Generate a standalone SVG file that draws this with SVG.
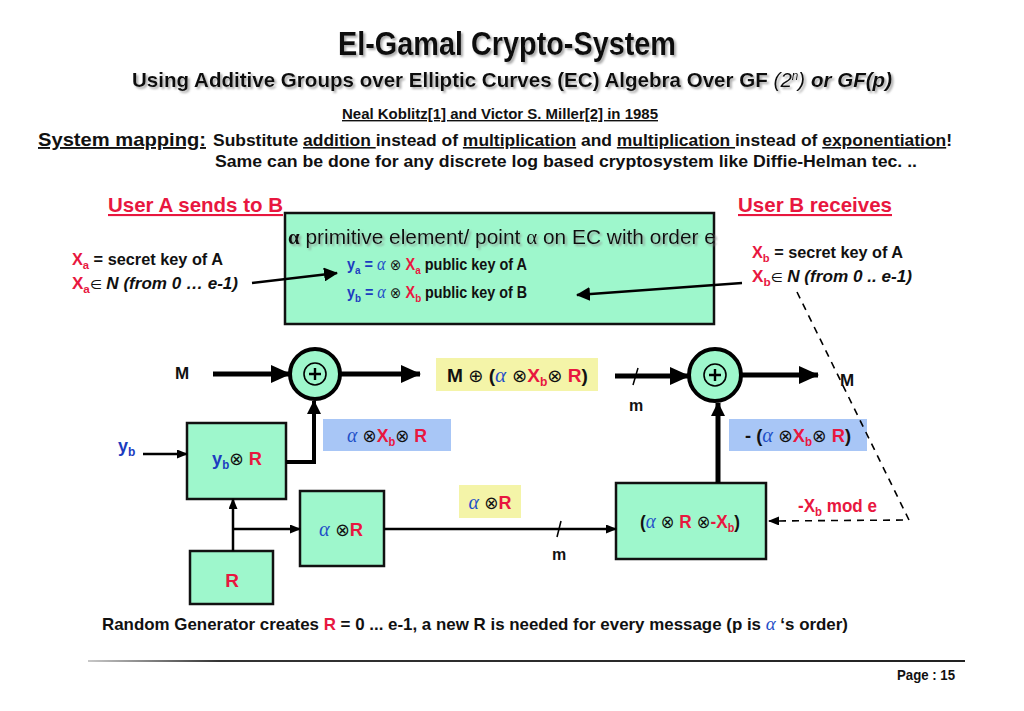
<svg xmlns="http://www.w3.org/2000/svg" width="1024" height="711" viewBox="0 0 1024 711">
<defs>
<style>
.n{font-family:"Liberation Sans Narrow","Liberation Sans",Arial,sans-serif;font-weight:bold;fill:#111}
.r{fill:#e8173f}
.b{fill:#1c3cc0}
.al{font-family:"Liberation Serif",serif;font-style:italic;font-weight:normal;fill:#1f4fc8}
.sy{font-family:"DejaVu Sans",sans-serif;font-weight:normal;fill:#111}
.box{fill:#9ef7cc;stroke:#111;stroke-width:2.5}
.yel{fill:#f4f4a8}
.blu{fill:#a8c6f6}
.thick{stroke:#000;stroke-width:5;fill:none}
.thin{stroke:#000;stroke-width:2.5;fill:none}
.dash{stroke:#000;stroke-width:1.6;fill:none;stroke-dasharray:7 6}
.u{text-decoration:underline}
</style>
<marker id="big" markerUnits="userSpaceOnUse" markerWidth="20" markerHeight="18" refX="19" refY="9" orient="auto"><path d="M0,0 L20,9 L0,18 z" fill="#000"/></marker>
<marker id="med" markerUnits="userSpaceOnUse" markerWidth="14" markerHeight="14" refX="13" refY="7" orient="auto"><path d="M0,0 L14,7 L0,14 z" fill="#000"/></marker>
<marker id="sm" markerUnits="userSpaceOnUse" markerWidth="11" markerHeight="9" refX="10" refY="4.5" orient="auto"><path d="M0,0 L11,4.5 L0,9 z" fill="#000"/></marker>
<filter id="sh" x="-5%" y="-20%" width="110%" height="150%"><feDropShadow dx="2" dy="2" stdDeviation="1.2" flood-color="#888" flood-opacity="0.7"/></filter>
<linearGradient id="hl" x1="0" y1="0" x2="1" y2="0"><stop offset="0" stop-color="#c8c8c8"/><stop offset="0.15" stop-color="#333"/><stop offset="1" stop-color="#222"/></linearGradient>
</defs>
<rect width="1024" height="711" fill="#fff"/>

<g id="header">
<text class="n" x="507" y="55" font-size="33" text-anchor="middle" textLength="338" lengthAdjust="spacingAndGlyphs" filter="url(#sh)">El-Gamal Crypto-System</text>
<text class="n" x="132" y="87" font-size="21" textLength="760" lengthAdjust="spacingAndGlyphs" filter="url(#sh)">Using Additive Groups over Elliptic Curves (EC) Algebra Over GF <tspan font-style="italic" font-weight="normal">(2<tspan font-size="12" baseline-shift="super">n</tspan>)</tspan><tspan font-style="italic"> or GF(p)</tspan></text>
<text class="n u" x="500" y="119" font-size="14" text-anchor="middle" textLength="316" lengthAdjust="spacingAndGlyphs">Neal Koblitz[1] and Victor S. Miller[2] in 1985</text>
<text class="n u" x="38" y="146" font-size="19" textLength="168" lengthAdjust="spacingAndGlyphs">System mapping:</text>
<text class="n" x="213" y="146" font-size="16" textLength="739" lengthAdjust="spacingAndGlyphs">Substitute <tspan class="u">addition </tspan>instead of <tspan class="u">multiplication</tspan> and <tspan class="u">multiplication </tspan>instead of <tspan class="u">exponentiation</tspan>!</text>
<text class="n" x="215" y="167" font-size="16" textLength="702" lengthAdjust="spacingAndGlyphs">Same can be done for any discrete log based cryptosystem like Diffie-Helman tec. ..</text>
</g>

<g id="userA">
<text class="n r u" x="108" y="212" font-size="21" textLength="175" lengthAdjust="spacingAndGlyphs">User A sends to B</text>
<text class="n" x="72" y="265" font-size="16" textLength="151" lengthAdjust="spacingAndGlyphs"><tspan class="r">X</tspan><tspan class="r" font-size="11" dy="4">a</tspan><tspan dy="-4"> = secret key of A</tspan></text>
<text class="n" x="72" y="289" font-size="16" textLength="166" lengthAdjust="spacingAndGlyphs"><tspan class="r">X</tspan><tspan class="r" font-size="11" dy="4">a</tspan><tspan class="sy" font-size="13" dy="-4">∈ </tspan><tspan font-style="italic">N (from 0 …  e-1)</tspan></text>
</g>

<g id="userB">
<text class="n r u" x="738" y="212" font-size="21" textLength="154" lengthAdjust="spacingAndGlyphs">User B receives</text>
<text class="n" x="752" y="258" font-size="16" textLength="151" lengthAdjust="spacingAndGlyphs"><tspan class="r">X</tspan><tspan class="r" font-size="11" dy="4">b</tspan><tspan dy="-4"> = secret key of A</tspan></text>
<text class="n" x="752" y="282" font-size="16" textLength="160" lengthAdjust="spacingAndGlyphs"><tspan class="r">X</tspan><tspan class="r" font-size="11" dy="4">b</tspan><tspan class="sy" font-size="13" dy="-4">∈ </tspan><tspan font-style="italic">N  (from 0 .. e-1)</tspan></text>
</g>

<g id="public-keys">
<rect class="box" x="285" y="213" width="429" height="111"/>
<text x="288" y="244" font-size="21" font-family="'Liberation Sans',Arial,sans-serif" fill="#111" textLength="428" lengthAdjust="spacingAndGlyphs" filter="url(#sh)"><tspan font-family="'Liberation Serif',serif" font-weight="bold">α</tspan> primitive element/ point <tspan font-family="'Liberation Serif',serif">α</tspan> on EC with order e</text>
<text class="n" x="347" y="270" font-size="16" textLength="180" lengthAdjust="spacingAndGlyphs"><tspan class="b">y</tspan><tspan class="b" font-size="11" dy="4">a</tspan><tspan class="b" dy="-4"> = </tspan><tspan class="al" font-size="18">α</tspan><tspan class="sy" font-size="15"> ⊗ </tspan><tspan class="r">X</tspan><tspan class="r" font-size="11" dy="4">a</tspan><tspan dy="-4"> public key of A</tspan></text>
<text class="n" x="347" y="298" font-size="16" textLength="180" lengthAdjust="spacingAndGlyphs"><tspan class="b">y</tspan><tspan class="b" font-size="11" dy="4">b</tspan><tspan class="b" dy="-4"> = </tspan><tspan class="al" font-size="18">α</tspan><tspan class="sy" font-size="15"> ⊗ </tspan><tspan class="r">X</tspan><tspan class="r" font-size="11" dy="4">b</tspan><tspan dy="-4"> public key of B</tspan></text>
</g>

<g id="label-M-in"><text class="n" x="175" y="379" font-size="17">M</text></g>
<g id="adder1">
<circle cx="315" cy="374" r="25" fill="#9ef7cc" stroke="#000" stroke-width="4"/>
<circle cx="315" cy="374" r="11" fill="none" stroke="#000" stroke-width="1.6"/>
<path d="M309,374 H321 M315,368 V380" stroke="#000" stroke-width="2.4"/>
</g>
<g id="cipher-label">
<rect class="yel" x="436" y="358" width="162" height="33"/>
<text class="n" x="447" y="382" font-size="19" textLength="141" lengthAdjust="spacingAndGlyphs">M  <tspan class="sy" font-size="18">⊕</tspan>  (<tspan class="al" font-size="21">α</tspan><tspan class="sy" font-size="18"> ⊗</tspan><tspan class="r">X</tspan><tspan class="r" font-size="12" dy="4">b</tspan><tspan class="sy" font-size="18" dy="-4">⊗</tspan> <tspan class="r">R</tspan>)</text>
</g>
<g id="adder2">
<circle cx="715" cy="375" r="26" fill="#9ef7cc" stroke="#000" stroke-width="4"/>
<circle cx="715" cy="375" r="11" fill="none" stroke="#000" stroke-width="1.6"/>
<path d="M709,375 H721 M715,369 V381" stroke="#000" stroke-width="2.4"/>
</g>
<g id="label-M-out"><text class="n" x="840" y="386" font-size="17">M</text></g>
<g id="label-m1"><text class="n" x="629" y="411" font-size="16">m</text></g>
<g id="label-m2"><text class="n" x="552" y="560" font-size="16">m</text></g>

<g id="key-label-A">
<rect class="blu" x="323" y="419" width="128" height="32"/>
<text class="n" x="387" y="442" font-size="19" text-anchor="middle" textLength="80" lengthAdjust="spacingAndGlyphs"><tspan class="al" font-size="21">α</tspan><tspan class="sy" font-size="18"> ⊗</tspan><tspan class="r">X</tspan><tspan class="r" font-size="12" dy="4">b</tspan><tspan class="sy" font-size="18" dy="-4">⊗</tspan> <tspan class="r">R</tspan></text>
</g>
<g id="key-label-B">
<rect class="blu" x="729" y="419" width="138" height="32"/>
<text class="n" x="798" y="442" font-size="19" text-anchor="middle" textLength="106" lengthAdjust="spacingAndGlyphs">- (<tspan class="al" font-size="21">α</tspan><tspan class="sy" font-size="18">  ⊗</tspan><tspan class="r">X</tspan><tspan class="r" font-size="12" dy="4">b</tspan><tspan class="sy" font-size="18" dy="-4">⊗</tspan> <tspan class="r">R</tspan>)</text>
</g>

<g id="label-yb"><text class="n b" x="118" y="452" font-size="18">y<tspan font-size="12" dy="4">b</tspan></text></g>
<g id="ybR">
<rect class="box" x="187" y="423" width="99" height="76"/>
<text class="n" x="237" y="465" font-size="19" text-anchor="middle" textLength="50" lengthAdjust="spacingAndGlyphs"><tspan class="b">y</tspan><tspan class="b" font-size="12" dy="4">b</tspan><tspan class="sy" font-size="18" dy="-4">⊗</tspan> <tspan class="r">R</tspan></text>
</g>
<g id="alphaR">
<rect class="box" x="300" y="491" width="84" height="75"/>
<text class="n" x="341" y="536" font-size="19" text-anchor="middle" textLength="44" lengthAdjust="spacingAndGlyphs"><tspan class="al" font-size="21">α</tspan><tspan class="sy" font-size="18"> ⊗</tspan><tspan class="r">R</tspan></text>
</g>
<g id="R">
<rect class="box" x="190" y="551" width="83" height="53"/>
<text class="n r" x="232" y="587" font-size="19" text-anchor="middle">R</text>
</g>
<g id="alphaR-label">
<rect class="yel" x="459" y="485" width="62" height="33"/>
<text class="n" x="490" y="509" font-size="19" text-anchor="middle" textLength="43" lengthAdjust="spacingAndGlyphs"><tspan class="al" font-size="21">α</tspan><tspan class="sy" font-size="18"> ⊗</tspan><tspan class="r">R</tspan></text>
</g>
<g id="decrypt-key">
<rect class="box" x="616" y="483" width="150" height="76"/>
<text class="n" x="690" y="528" font-size="19" text-anchor="middle" textLength="100" lengthAdjust="spacingAndGlyphs">(<tspan class="al" font-size="21">α</tspan><tspan class="sy" font-size="18"> ⊗</tspan> <tspan class="r">R</tspan><tspan class="sy" font-size="18"> ⊗</tspan><tspan class="r">-X</tspan><tspan class="r" font-size="12" dy="4">b</tspan><tspan dy="-4">)</tspan></text>
</g>
<g id="label-mod"><text class="n r" x="798" y="512" font-size="18" textLength="79" lengthAdjust="spacingAndGlyphs">-X<tspan font-size="12" dy="4">b</tspan><tspan dy="-4">  mod e</tspan></text></g>

<g id="connectors">
<line class="thin" x1="252" y1="283" x2="337" y2="273" marker-end="url(#med)"/>
<line class="thin" x1="742" y1="283" x2="577" y2="295" marker-end="url(#med)"/>
<polyline class="dash" points="797,292 909,520 769,521" marker-end="url(#sm)"/>
<line class="thick" x1="213" y1="374" x2="290" y2="374" marker-end="url(#big)"/>
<line class="thick" x1="341" y1="374" x2="420" y2="374" marker-end="url(#big)"/>
<line class="thick" x1="615" y1="376" x2="689" y2="376" marker-end="url(#big)"/>
<line stroke="#000" stroke-width="1.5" x1="633" y1="385" x2="638" y2="368"/>
<line class="thick" x1="742" y1="375" x2="818" y2="375" marker-end="url(#big)"/>
<line class="thin" x1="143" y1="454" x2="187" y2="454" marker-end="url(#sm)"/>
<polyline points="286,462 314,462 314,401" stroke="#000" stroke-width="4" fill="none" marker-end="url(#med)"/>
<line class="thin" x1="233" y1="551" x2="233" y2="499" marker-end="url(#sm)"/>
<line class="thin" x1="233" y1="529" x2="300" y2="529" marker-end="url(#sm)"/>
<line class="thin" x1="384" y1="529" x2="616" y2="529" marker-end="url(#sm)"/>
<line stroke="#000" stroke-width="1.5" x1="557" y1="537" x2="561" y2="521"/>
<line x1="718" y1="483" x2="718" y2="403" stroke="#000" stroke-width="5" marker-end="url(#med)"/>
</g>

<g id="footer">
<text class="n" x="102" y="630" font-size="17" textLength="746" lengthAdjust="spacingAndGlyphs">Random Generator creates  <tspan class="r">R</tspan> = 0 ... e-1, a new R is needed for every message (p is <tspan class="al" font-size="19">α</tspan> <tspan font-family="'Liberation Sans',Arial,sans-serif">‘s order</tspan><tspan class="u">)</tspan></text>
<rect x="88" y="660" width="877" height="2" fill="url(#hl)"/>
<text class="n" x="897" y="680" font-size="14" textLength="58" lengthAdjust="spacingAndGlyphs">Page :  15</text>
</g>
</svg>
